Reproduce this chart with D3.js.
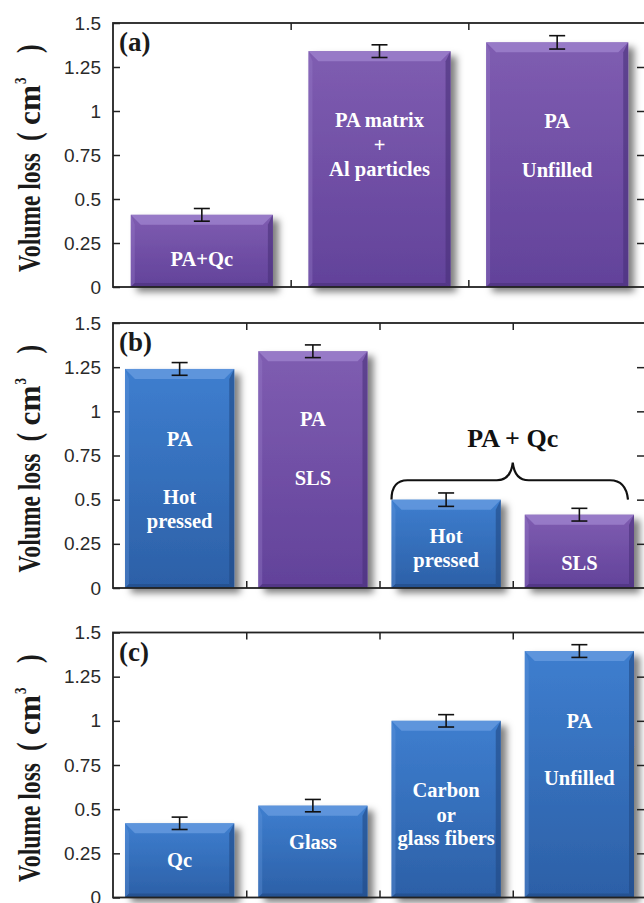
<!DOCTYPE html>
<html><head><meta charset="utf-8">
<script src="https://cdn.jsdelivr.net/npm/d3@7/dist/d3.min.js"></script>
<style>body{margin:0;background:#fff}svg{display:block}</style>
</head><body>
<svg id="chart" width="644" height="903"></svg>
<script>
// ---- data ----
const tickValues = [0, 0.25, 0.5, 0.75, 1, 1.25, 1.5];
const yAxisTitle = "Volume loss";

const catsA = ["PA+Qc", "PA matrix + Al particles", "PA Unfilled"];
const valuesA = [0.41, 1.34, 1.39];
const errorsA = [0.036, 0.036, 0.038];
const colorsA = ["purple", "purple", "purple"];
const linesA = [["PA+Qc"], ["PA matrix", "+", "Al particles"], ["PA", "Unfilled"]];

const catsB = ["PA Hot pressed", "PA SLS", "PA+Qc Hot pressed", "PA+Qc SLS"];
const valuesB = [1.24, 1.34, 0.50, 0.415];
const errorsB = [0.036, 0.036, 0.038, 0.036];
const colorsB = ["blue", "purple", "blue", "purple"];
const linesB = [["PA", "Hot", "pressed"], ["PA", "SLS"], ["Hot", "pressed"], ["SLS"]];
const groupLabelB = "PA + Qc";

const catsC = ["Qc", "Glass", "Carbon or glass fibers", "PA Unfilled"];
const valuesC = [0.42, 0.52, 1.0, 1.395];
const errorsC = [0.035, 0.035, 0.035, 0.036];
const colorsC = ["blue", "blue", "blue", "blue"];
const linesC = [["Qc"], ["Glass"], ["Carbon", "or", "glass fibers"], ["PA", "Unfilled"]];

// ---- layout (not data) ----
const X0 = 113, X1 = 646;
const SERIF = "'Liberation Serif','Times New Roman',Times,serif";
const panels = [
  {tag:"(a)", cats:catsA, vals:valuesA, errs:errorsA, cols:colorsA, lines:linesA, top:23, bottom:287, pad:0.2,
   textY:[[0.12],[0.909,0.767,0.631],[0.903,0.625]]},
  {tag:"(b)", cats:catsB, vals:valuesB, errs:errorsB, cols:colorsB, lines:linesB, top:323, bottom:588, pad:0.18,
   textY:[[0.804,0.475,0.340],[0.917,0.583],[0.255,0.119],[0.102]], brace:true},
  {tag:"(c)", cats:catsC, vals:valuesC, errs:errorsC, cols:colorsC, lines:linesC, top:632.5, bottom:897.5, pad:0.18,
   textY:[[0.173],[0.274],[0.568,0.427,0.297],[0.959,0.636]]}
];
const palette = {
  purple: {top:"#7f5db1", bot:"#62429a", light:"#9b7fcb", dark:"#4a317a"},
  blue:   {top:"#3e7ecf", bot:"#2c60a7", light:"#6499de", dark:"#214a84"}
};

const svg = d3.select("#chart");
const defs = svg.append("defs");
const f = defs.append("filter").attr("id","shadow").attr("x","-20%").attr("y","-20%").attr("width","150%").attr("height","150%");
f.append("feDropShadow").attr("dx",6).attr("dy",5).attr("stdDeviation",3.5).attr("flood-color","#000").attr("flood-opacity",0.5);
Object.entries(palette).forEach(([k,p]) => {
  const g = defs.append("linearGradient").attr("id","g-"+k).attr("x1",0).attr("y1",0).attr("x2",0).attr("y2",1);
  g.append("stop").attr("offset","0%").attr("stop-color",p.top);
  g.append("stop").attr("offset","100%").attr("stop-color",p.bot);
});

panels.forEach(P => {
  const x = d3.scaleBand().domain(P.cats).range([X0, X1]).paddingInner(P.pad).paddingOuter(P.pad/2);
  const y = d3.scaleLinear().domain([0, 1.5]).range([P.bottom, P.top]);
  const g = svg.append("g");

  // bars
  P.cats.forEach((c, i) => {
    const bx0 = x(c), bx1 = x(c) + x.bandwidth();
    const by0 = y(P.vals[i]), by1 = y(0);
    const p = palette[P.cols[i]];
    const bg = g.append("g");
    bg.append("rect").attr("x",bx0).attr("y",by0).attr("width",bx1-bx0).attr("height",by1-by0)
      .attr("fill","url(#g-"+P.cols[i]+")").attr("filter","url(#shadow)");
    const b = 10;
    const poly = pts => pts.map(q => q.join(",")).join(" ");
    bg.append("polygon").attr("points", poly([[bx0,by0],[bx1,by0],[bx1-b,by0+b],[bx0+b,by0+b]])).attr("fill",p.light).attr("opacity",0.85);
    bg.append("polygon").attr("points", poly([[bx0,by0],[bx0+b*0.4,by0+b],[bx0+b*0.4,by1-b*0.4],[bx0,by1]])).attr("fill",p.light).attr("opacity",0.35);
    bg.append("polygon").attr("points", poly([[bx1,by0],[bx1,by1],[bx1-b*0.5,by1-b*0.4],[bx1-b*0.5,by0+b]])).attr("fill",p.dark).attr("opacity",0.6);
    bg.append("polygon").attr("points", poly([[bx0,by1],[bx0+b*0.4,by1-b*0.4],[bx1-b*0.5,by1-b*0.4],[bx1,by1]])).attr("fill",p.dark).attr("opacity",0.6);

    // error bar
    const cx = bx0 + x.bandwidth()/2, ew = 8;
    const eg = g.append("g").attr("stroke","#111").attr("stroke-width",1.6);
    eg.append("line").attr("x1",cx).attr("x2",cx).attr("y1",y(P.vals[i]+P.errs[i])).attr("y2",y(P.vals[i]-P.errs[i]));
    eg.append("line").attr("x1",cx-ew).attr("x2",cx+ew).attr("y1",y(P.vals[i]+P.errs[i])).attr("y2",y(P.vals[i]+P.errs[i]));
    eg.append("line").attr("x1",cx-ew).attr("x2",cx+ew).attr("y1",y(P.vals[i]-P.errs[i])).attr("y2",y(P.vals[i]-P.errs[i]));

    // in-bar text
    P.lines[i].forEach((t, j) => {
      g.append("text").attr("x",cx).attr("y",y(P.textY[i][j])).attr("text-anchor","middle")
        .attr("font-family",SERIF).attr("font-weight","bold")
        .attr("font-size",20.5).attr("fill","#fff").text(t);
    });
  });

  // frame
  g.append("rect").attr("x",X0).attr("y",P.top).attr("width",X1-X0).attr("height",P.bottom-P.top)
    .attr("fill","none").attr("stroke","#222").attr("stroke-width",1.8);

  // y axes
  const yl = g.append("g").attr("transform",`translate(${X0},0)`)
    .call(d3.axisLeft(y).tickValues(tickValues).tickSize(-7).tickPadding(12).tickFormat(d => String(d)));
  yl.select(".domain").remove();
  yl.selectAll("line").attr("stroke","#222").attr("stroke-width",1.5);
  yl.selectAll("text").attr("font-family","'Liberation Sans',Arial,sans-serif").attr("font-size",19).attr("fill","#2a2a2a");
  const yr = g.append("g").attr("transform",`translate(${X1},0)`)
    .call(d3.axisRight(y).tickValues(tickValues.slice(1,-1)).tickSize(-9).tickFormat(""));
  yr.select(".domain").remove();
  yr.selectAll("line").attr("stroke","#222").attr("stroke-width",1.5);

  // category boundary ticks (top and bottom)
  const step = x.step();
  const bounds = d3.range(1, P.cats.length).map(k => X0 + k*step);
  const xt = d3.scaleIdentity();
  const xtop = g.append("g").attr("transform",`translate(0,${P.top})`)
    .call(d3.axisBottom(xt).tickValues(bounds).tickSize(7).tickFormat(""));
  xtop.select(".domain").remove();
  xtop.selectAll("line").attr("stroke","#222").attr("stroke-width",1.5);
  const xbot = g.append("g").attr("transform",`translate(0,${P.bottom})`)
    .call(d3.axisTop(xt).tickValues(bounds).tickSize(7).tickFormat(""));
  xbot.select(".domain").remove();
  xbot.selectAll("line").attr("stroke","#222").attr("stroke-width",1.5);

  // panel tag
  g.append("text").attr("x",X0+6).attr("y",P.top+28)
    .attr("font-family",SERIF).attr("font-weight","bold")
    .attr("font-size",27).attr("fill","#1a1a1a").text(P.tag);

  // y title (rotated, stretched across)
  const cy = (P.top + P.bottom)/2;
  const tg = g.append("g").attr("transform",`translate(40,${cy}) rotate(-90) scale(1,1.3)`)
    .attr("font-family",SERIF).attr("fill","#1a1a1a");
  tg.append("text").attr("x",-117).attr("font-weight","bold").attr("font-size",24)
    .attr("textLength",119).attr("lengthAdjust","spacingAndGlyphs").text(yAxisTitle);
  tg.append("text").attr("x",14).attr("font-size",26).attr("font-weight","bold").text("(");
  tg.append("text").attr("x",30).attr("font-weight","bold").attr("font-size",24)
    .attr("textLength",40).attr("lengthAdjust","spacingAndGlyphs").text("cm");
  tg.append("text").attr("x",71).attr("y",-11).attr("font-weight","bold").attr("font-size",13).text("3");
  tg.append("text").attr("x",102).attr("font-size",26).attr("font-weight","bold").text(")");

  // brace + group label
  if (P.brace) {
    const c2 = P.cats[2], c3 = P.cats[3];
    const lx = x(c2), rx = x(c3) + x.bandwidth();
    const mx = X0 + 3*step;
    const yb = y(0.54), ym = y(0.61), yp = y(0.71);
    const path = d3.path();
    path.moveTo(lx, yb + 7);
    path.quadraticCurveTo(lx, ym, lx + 16, ym);
    path.lineTo(mx - 16, ym);
    path.quadraticCurveTo(mx - 2, ym, mx, yp);
    path.quadraticCurveTo(mx + 2, ym, mx + 16, ym);
    path.lineTo(rx - 24, ym);
    path.quadraticCurveTo(rx - 8, ym, rx - 6, yb + 7);
    g.append("path").attr("d", path.toString()).attr("fill","none").attr("stroke","#111").attr("stroke-width",2.2);
    g.append("text").attr("x",mx).attr("y",y(0.80)).attr("text-anchor","middle")
      .attr("font-family",SERIF).attr("font-weight","bold")
      .attr("font-size",26).attr("fill","#111").text(groupLabelB);
  }
});
</script>
</body></html>
